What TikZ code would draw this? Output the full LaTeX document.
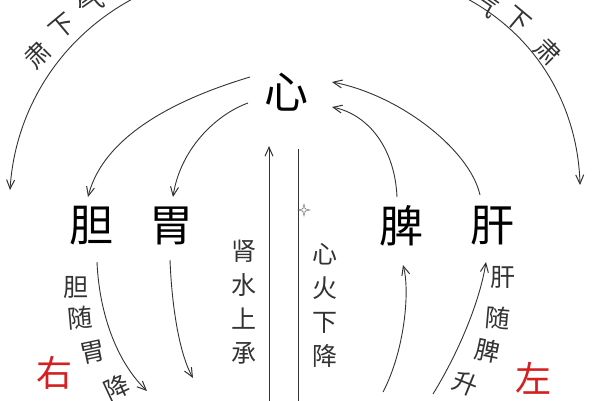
\documentclass[tikz,border=0pt]{standalone}
\usepackage{fontspec}
\newfontfamily\cjk{Noto Sans CJK SC}
\usetikzlibrary{arrows.meta}
\definecolor{ink}{HTML}{333333}
\definecolor{redink}{HTML}{D42020}
\begin{document}
\begin{tikzpicture}[x=1pt,y=-1pt,
  big/.style={font=\cjk\fontsize{44}{44}\selectfont, text=black, inner sep=0pt},
  lab/.style={font=\cjk\fontsize{25}{25}\selectfont, text=ink, inner sep=0pt},
  vlab/.style={font=\cjk\fontsize{25}{34}\selectfont, text=ink, align=center, inner sep=0pt},
  side/.style={font=\cjk\fontsize{36}{36}\selectfont, text=redink, inner sep=0pt},
  flow/.style={draw=ink, line width=0.9pt, -{Straight Barb[length=9pt,width=8pt,line width=1pt]}},
  plain/.style={draw=ink, line width=0.9pt}]
\useasboundingbox (0,0) rectangle (600,400);
\fill[white] (0,0) rectangle (600,400);
\begin{scope}
\clip (0,0) rectangle (600,400);

% organs
\node[big] (xin) at (286,92) {心};
\node[big] (dan) at (91,226) {胆};
\node[big] (wei) at (171,226) {胃};
\node[big] (pi) at (401,226) {脾};
\node[big] (gan) at (492,226) {肝};

% red side labels
\node[side] (you) at (54,373) {右};
\node[side] (zuo) at (533,378) {左};

% free ends
\coordinate (olS) at (140,-5);
\coordinate (olE) at (10,190);
\coordinate (orS) at (460,-5);
\coordinate (orE) at (580,185);
\coordinate (danE) at (147,391);
\coordinate (weiE) at (193,378);
\coordinate (piS) at (383,392);
\coordinate (ganS) at (433,394);
\coordinate (upS) at (269,402);
\coordinate (downE) at (298,402);

% outer arcs
\draw[flow] (olS) .. controls (60,35) and (15,110) .. (olE);
\draw[flow] (orS) .. controls (540,35) and (578,110) .. (orE);

% heart to gallbladder / stomach
\draw[flow] ([shift={(-36,-15)}]xin.center) .. controls (190,95) and (105,130) .. ([shift={(-3,-29)}]dan.center);
\draw[flow] ([shift={(-38,11)}]xin.center) .. controls (215,115) and (180,150) .. ([shift={(2,-29)}]wei.center);

% liver / spleen to heart
\draw[flow] ([shift={(-12,-31)}]gan.center) .. controls (470,150) and (400,95) .. ([shift={(46,-10)}]xin.center);
\draw[flow] ([shift={(-4,-29)}]pi.center) .. controls (395,150) and (370,115) .. ([shift={(46,15)}]xin.center);

% descending from gallbladder / stomach
\draw[flow] ([shift={(6,36)}]dan.center) .. controls (99,310) and (115,360) .. (danE);
\draw[flow] ([shift={(-1,34)}]wei.center) .. controls (172,310) and (180,355) .. (weiE);

% ascending to spleen / liver
\draw[flow] (piS) .. controls (405,350) and (410,290) .. ([shift={(2,39)}]pi.center);
\draw[flow] (ganS) .. controls (460,350) and (480,300) .. ([shift={(-6,36)}]gan.center);

% vertical axis
\draw[flow] (upS) -- ([shift={(-17,54)}]xin.center);
\draw[plain] ([shift={(12,57)}]xin.center) -- (downE);

% small star mark
\draw[ink!70, line width=0.4pt] (304,204) -- (305.2,208.8) -- (310,210) -- (305.2,211.2) -- (304,216) -- (302.8,211.2) -- (298,210) -- (302.8,208.8) -- cycle;
\draw[ink!60, line width=0.3pt] (304,210) circle (2.2);

% vertical labels
\node[vlab] (shen) at (244,302) {肾\\水\\上\\承};
\node[vlab] (huo) at (325,305) {心\\火\\下\\降};

% gallbladder follows stomach
\node[lab] (d1) at (76,287) {胆};
\node[lab, rotate=5] (d2) at (80,318) {随};
\node[lab, rotate=12] (d3) at (93,352) {胃};
\node[lab, rotate=25] (d4) at (117,388) {降};

% liver follows spleen
\node[lab] (g1) at (503,277) {肝};
\node[lab, rotate=-5] (g2) at (498,318) {随};
\node[lab, rotate=-12] (g3) at (488,351) {脾};
\node[lab, rotate=-22] (g4) at (466,384) {升};

% top arc labels (cut by the frame)
\node[lab, rotate=45] (tl1) at (38,55) {肃};
\node[lab, rotate=40] (tl2) at (63,27) {下};
\node[lab, rotate=35] (tl3) at (90,4) {气};
\node[lab, rotate=-35] (tr1) at (486,4) {气};
\node[lab, rotate=-40] (tr2) at (518,20) {下};
\node[lab, rotate=-45] (tr3) at (548,52) {肃};
\end{scope}
\end{tikzpicture}
\end{document}
